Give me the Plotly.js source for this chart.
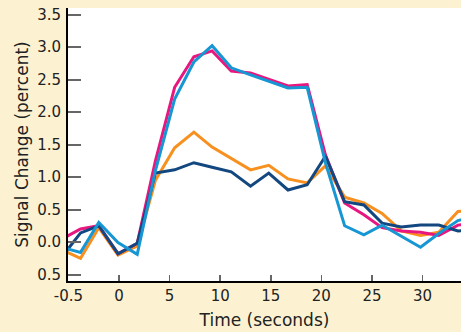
<!DOCTYPE html>
<html>
<head>
<meta charset="utf-8">
<script src="https://cdn.plot.ly/plotly-3.0.1.min.js"></script>
<style>html,body{margin:0;padding:0;background:#fcf2d2;}#chart{width:461px;height:332px;}</style>
</head>
<body>
<div id="chart"></div>
<script>
// time of each sample (seconds)
var time = [-5.7, -3.8, -2.0, -0.1, 1.8, 3.6, 5.5, 7.4, 9.2, 11.1, 13.0, 14.8, 16.7, 18.6, 20.4, 22.3, 24.2, 26.0, 27.9, 29.8, 31.6, 33.5, 35.4];

var seriesPink   = [0.04, 0.20, 0.25, -0.18, -0.02, 1.25, 2.38, 2.85, 2.94, 2.63, 2.60, 2.50, 2.40, 2.42, 1.34, 0.60, 0.42, 0.22, 0.17, 0.15, 0.10, 0.26, 0.30];
var seriesCyan   = [-0.08, -0.16, 0.30, -0.01, -0.19, 1.10, 2.20, 2.77, 3.02, 2.68, 2.57, 2.47, 2.37, 2.38, 1.22, 0.25, 0.11, 0.26, 0.09, -0.08, 0.13, 0.33, 0.40];
var seriesOrange = [-0.12, -0.25, 0.22, -0.20, -0.06, 0.95, 1.45, 1.69, 1.46, 1.29, 1.11, 1.18, 0.97, 0.91, 1.17, 0.69, 0.60, 0.44, 0.17, 0.10, 0.15, 0.47, 0.50];
var seriesNavy   = [-0.24, 0.14, 0.25, -0.18, -0.02, 1.06, 1.11, 1.22, 1.15, 1.08, 0.86, 1.06, 0.80, 0.88, 1.32, 0.62, 0.57, 0.29, 0.23, 0.26, 0.26, 0.17, 0.20];

var xTickVals = [-5, 0, 5, 10, 15, 20, 25, 30];
var xTickText = ['-0.5', '0', '5', '10', '15', '20', '25', '30'];
var yTickVals = [-0.5, 0, 0.5, 1, 1.5, 2, 2.5, 3, 3.5];
var yTickText = ['0.5', '0.0', '0.5', '1.0', '1.5', '2.0', '2.5', '3.0', '3.5'];

function tr(y, color) {
  return {x: time, y: y, type: 'scatter', mode: 'lines',
          line: {color: color, width: 3}, hoverinfo: 'none'};
}
var data = [
  tr(seriesOrange, '#f7901e'),
  tr(seriesPink, '#e8177f'),
  tr(seriesNavy, '#13477f'),
  tr(seriesCyan, '#1796d4')
];

var font = {family: 'DejaVu Sans, sans-serif', size: 15, color: '#222'};
var layout = {
  width: 461, height: 332,
  paper_bgcolor: '#fcf2d2',
  plot_bgcolor: '#ffffff',
  showlegend: false,
  margin: {l: 68, r: 0, t: 8, b: 51, pad: 0},
  font: font,
  xaxis: {
    range: [-5.04, 33.8],
    tickvals: xTickVals, ticktext: xTickText,
    ticks: 'inside', ticklen: 6, tickwidth: 1.5, tickcolor: '#666',
    showline: true, linecolor: '#000', linewidth: 2,
    showgrid: false, zeroline: false,
    tickfont: font,
    title: {text: 'Time (seconds)', font: {family: 'DejaVu Sans, sans-serif', size: 17, color: '#222'}, standoff: 10}
  },
  yaxis: {
    range: [-0.6, 3.6],
    tickvals: yTickVals, ticktext: yTickText,
    ticks: 'inside', ticklen: 13, tickwidth: 2, tickcolor: '#666',
    showline: true, linecolor: '#000', linewidth: 2,
    showgrid: false, zeroline: false,
    ticklabelstandoff: 2,
    tickfont: font,
    title: {text: 'Signal Change (percent)', font: {family: 'DejaVu Sans, sans-serif', size: 17, color: '#222'}, standoff: 4}
  }
};
Plotly.newPlot('chart', data, layout, {staticPlot: true, displayModeBar: false});
</script>
</body>
</html>
